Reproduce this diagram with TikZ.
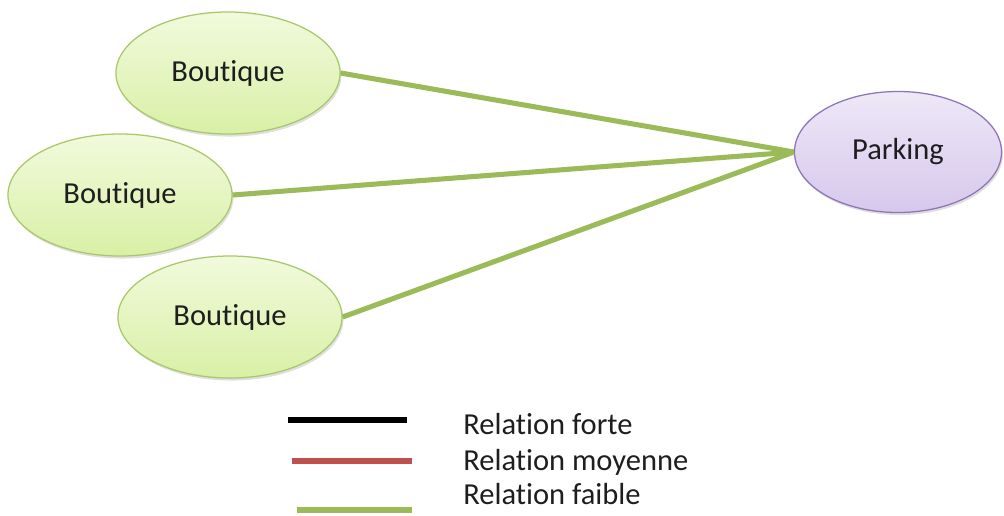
\documentclass[tikz,border=0pt]{standalone}
\usepackage{fontspec}
\setmainfont{Carlito}[Ligatures={NoCommon}]
\usetikzlibrary{shapes.geometric,shadows}
\definecolor{leaf}{HTML}{9BBB59}
\definecolor{leaftop}{HTML}{F1FADC}
\definecolor{leafbot}{HTML}{D9F0A6}
\definecolor{leafline}{HTML}{A9C86A}
\definecolor{lilac}{HTML}{8F74B8}
\definecolor{lilactop}{HTML}{EEE8F7}
\definecolor{lilacbot}{HTML}{D6C8EC}
\definecolor{brick}{HTML}{C0504D}
\definecolor{ink}{HTML}{1E1E1E}
\tikzset{shop/.style={ellipse,draw=leafline,line width=.9pt,top color=leaftop,bottom color=leafbot,
 minimum width=5.6cm,minimum height=3.05cm,inner sep=0pt,text=ink,font=\fontsize{21.7}{26}\selectfont,
 drop shadow={shadow xshift=1pt,shadow yshift=-1.8pt,opacity=.25}},
 lot/.style={shop,draw=lilac,top color=lilactop,bottom color=lilacbot,minimum width=5.175cm,minimum height=3.025cm},
 faible/.style={draw=leaf,line width=3.6pt},moyenne/.style={draw=brick,line width=3.6pt},forte/.style={draw=black,line width=3.6pt},
 legtext/.style={anchor=base west,inner sep=0pt,text=ink,font=\fontsize{21.7}{26}\selectfont}}
\begin{document}
\begin{tikzpicture}[x=0.025cm,y=-0.025cm]
\useasboundingbox (0,0) rectangle (1004,515);
\node[shop] (shopA) at (228,73) {Boutique};
\node[shop] (shopB) at (120,195) {Boutique};
\node[shop] (shopC) at (230,317) {Boutique};
\node[lot] (park) at (898,152) {Parking};
\draw[faible] (shopA.east)--(park.west);
\draw[faible] (shopB.east)--(park.west);
\draw[faible] (shopC.east)--(park.west);
% legend
\node[legtext] (lforte) at (463,434) {Relation forte};
\node[legtext] (lmoyen) at (463,470) {Relation moyenne};
\node[legtext] (lfaible) at (463,504) {Relation faible};
\coordinate (fa) at (288,420); \coordinate (fb) at (407,420);
\coordinate (ma) at (292,461); \coordinate (mb) at (412,461);
\coordinate (wa) at (297,510); \coordinate (wb) at (412,510);
\draw[forte] (fa)--(fb);
\draw[moyenne] (ma)--(mb);
\draw[faible] (wa)--(wb);
\end{tikzpicture}
\end{document}
